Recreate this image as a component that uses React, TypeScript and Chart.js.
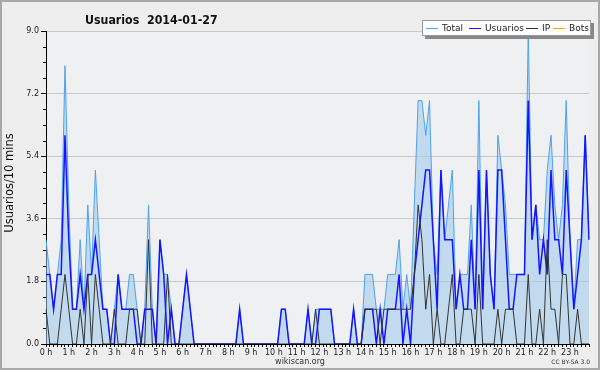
import React, { useEffect, useRef } from 'react';
import { Chart, registerables } from 'chart.js';

Chart.register(...registerables);

// 10-minute slots over the day (144 slots)
const slotLabels: string[] = Array.from({ length: 144 }, (_, i) => `${Math.floor(i / 6)}:${i % 6}0`);
const hourTickLabels: string[] = [
  '0 h', '1 h', '2 h', '3 h', '4 h', '5 h', '6 h', '7 h', '8 h', '9 h', '10 h', '11 h',
  '12 h', '13 h', '14 h', '15 h', '16 h', '17 h', '18 h', '19 h', '20 h', '21 h', '22 h', '23 h',
];

const totalValues: number[] = [
  3, 2, 1, 2, 3, 8, 4, 1, 1, 3,
  1, 4, 2, 5, 3, 1, 1, 0, 1, 2,
  1, 1, 2, 2, 1, 0, 1, 4, 1, 0,
  3, 2, 2, 1, 0, 0, 1, 2, 1, 0,
  0, 0, 0, 0, 0, 0, 0, 0, 0, 0,
  0, 1, 0, 0, 0, 0, 0, 0, 0, 0,
  0, 0, 1, 1, 0, 0, 0, 0, 0, 1,
  0, 1, 1, 1, 1, 1, 0, 0, 0, 0,
  0, 1, 0, 0, 2, 2, 2, 1, 1, 1,
  2, 2, 2, 3, 1, 2, 1, 4, 7, 7,
  6, 7, 3, 2, 5, 3, 4, 5, 1, 2,
  2, 2, 4, 1, 7, 1, 5, 2, 1, 6,
  5, 4, 2, 2, 2, 2, 2, 9, 3, 4,
  3, 3, 5, 6, 4, 3, 4, 7, 3, 1,
  3, 3, 6, 3,
];

const usuariosValues: number[] = [
  2, 2, 1, 2, 2, 6, 3, 1, 1, 2,
  1, 2, 2, 3, 2, 1, 1, 0, 0, 2,
  1, 1, 1, 1, 0, 0, 1, 1, 1, 0,
  3, 2, 0, 1, 0, 0, 1, 2, 1, 0,
  0, 0, 0, 0, 0, 0, 0, 0, 0, 0,
  0, 1, 0, 0, 0, 0, 0, 0, 0, 0,
  0, 0, 1, 1, 0, 0, 0, 0, 0, 1,
  0, 0, 1, 1, 1, 1, 0, 0, 0, 0,
  0, 1, 0, 0, 1, 1, 1, 0, 1, 0,
  1, 1, 1, 2, 0, 1, 0, 2, 3, 4,
  5, 5, 3, 1, 5, 3, 3, 3, 1, 2,
  1, 1, 3, 1, 5, 1, 5, 2, 1, 5,
  5, 3, 1, 1, 2, 2, 2, 7, 3, 4,
  2, 3, 2, 5, 3, 3, 2, 5, 3, 1,
  2, 3, 6, 3,
];

const ipValues: number[] = [
  1, 0, 0, 0, 1, 2, 1, 0, 0, 1,
  0, 2, 0, 2, 1, 0, 0, 0, 1, 0,
  0, 0, 1, 1, 1, 0, 0, 3, 0, 0,
  0, 0, 2, 0, 0, 0, 0, 0, 0, 0,
  0, 0, 0, 0, 0, 0, 0, 0, 0, 0,
  0, 0, 0, 0, 0, 0, 0, 0, 0, 0,
  0, 0, 0, 0, 0, 0, 0, 0, 0, 0,
  0, 1, 0, 0, 0, 0, 0, 0, 0, 0,
  0, 0, 0, 0, 1, 1, 1, 1, 0, 1,
  1, 1, 1, 1, 1, 1, 1, 2, 4, 3,
  1, 2, 0, 1, 0, 0, 1, 2, 0, 0,
  1, 1, 1, 0, 2, 0, 0, 0, 0, 1,
  0, 1, 1, 1, 0, 0, 0, 2, 0, 0,
  1, 0, 3, 1, 1, 0, 2, 2, 0, 0,
  1, 0, 0, 0,
];

const legendNames: string[] = ['Total', 'Usuarios', 'IP', 'Bots'];
const legendColors: string[] = ['#4ea2ee', '#1414ff', '#333333', '#ffa500'];
const yStep = 1.8;
const yMinorStep = 0.45;
const yMax = 9;

const FONT = "'DejaVu Sans', sans-serif";

const decorPlugin = {
  id: 'decor',
  beforeDraw(chart: any) {
    const { ctx, chartArea: a, width, height } = chart;
    ctx.save();
    ctx.fillStyle = '#eeeeee';
    ctx.fillRect(0, 0, width, height);
    ctx.fillStyle = '#eef0f2';
    ctx.fillRect(a.left, a.top, a.right - a.left, a.bottom - a.top);
    ctx.restore();
  },
  afterDraw(chart: any) {
    const { ctx, chartArea: a } = chart;
    const y = chart.scales.y;
    ctx.save();
    // minor ticks on y axis
    ctx.strokeStyle = '#000';
    ctx.lineWidth = 1;
    const n = Math.round(yMax / yMinorStep);
    const ratio = Math.round(yStep / yMinorStep);
    for (let k = 1; k < n; k++) {
      if (k % ratio === 0) continue;
      const py = Math.round(y.getPixelForValue(k * yMinorStep)) + 0.5;
      ctx.beginPath();
      ctx.moveTo(a.left - 3, py);
      ctx.lineTo(a.left, py);
      ctx.stroke();
    }

    // outer frame
    ctx.strokeStyle = '#a8a8a8';
    ctx.lineWidth = 2;
    ctx.strokeRect(1, 1, 598, 368);

    // title (condensed look)
    ctx.save();
    ctx.translate(85, 24);
    ctx.scale(0.85, 1);
    ctx.fillStyle = '#111';
    ctx.font = `bold 13px ${FONT}`;
    ctx.textAlign = 'left';
    ctx.textBaseline = 'alphabetic';
    ctx.fillText('Usuarios  2014-01-27', 0, 0);
    ctx.restore();

    // y axis title
    ctx.save();
    ctx.translate(10, 183);
    ctx.rotate(-Math.PI / 2);
    ctx.font = `11.5px ${FONT}`;
    ctx.textAlign = 'center';
    ctx.textBaseline = 'middle';
    ctx.fillStyle = '#111';
    ctx.fillText('Usuarios/10 mins', 0, 0);
    ctx.restore();

    // footer
    ctx.fillStyle = '#333';
    ctx.font = `8px ${FONT}`;
    ctx.textAlign = 'center';
    ctx.textBaseline = 'middle';
    ctx.fillText('wikiscan.org', 300, 362);
    ctx.font = `6px ${FONT}`;
    ctx.textAlign = 'right';
    ctx.fillText('CC BY-SA 3.0', 590, 362);

    // legend box
    ctx.fillStyle = '#888';
    ctx.fillRect(425, 23, 169, 16);
    ctx.fillStyle = '#ffffff';
    ctx.fillRect(422, 20, 169, 16);
    ctx.strokeStyle = '#999';
    ctx.lineWidth = 1;
    ctx.strokeRect(422.5, 20.5, 168, 15);
    const starts = [426, 469, 526, 553];
    ctx.font = `9px ${FONT}`;
    ctx.textAlign = 'left';
    ctx.textBaseline = 'middle';
    legendNames.forEach((name, i) => {
      const x0 = starts[i];
      ctx.strokeStyle = legendColors[i];
      ctx.beginPath();
      ctx.moveTo(x0, 28.5);
      ctx.lineTo(x0 + 12, 28.5);
      ctx.stroke();
      ctx.fillStyle = '#222';
      ctx.fillText(name, x0 + 16, 28.5);
    });
    ctx.restore();
  },
};

export default function App() {
  const ref = useRef<HTMLCanvasElement>(null);
  useEffect(() => {
    const canvas = ref.current;
    if (!canvas) return;
    Chart.defaults.font.family = FONT;
    const chart = new Chart(canvas, {
      type: 'line',
      data: {
        labels: slotLabels,
        datasets: [
          {
            label: 'IP',
            data: ipValues,
            borderColor: legendColors[2],
            borderWidth: 1,
            fill: false,
            order: 1,
          },
          {
            label: 'Usuarios',
            data: usuariosValues,
            borderColor: legendColors[1],
            borderWidth: 1.5,
            fill: false,
            order: 2,
          },
          {
            label: 'Total',
            data: totalValues,
            borderColor: legendColors[0],
            backgroundColor: 'rgba(158,200,234,0.55)',
            borderWidth: 1,
            fill: 'origin',
            order: 3,
          },
        ],
      },
      options: {
        responsive: false,
        animation: false,
        devicePixelRatio: 1,
        layout: { padding: { left: 0, top: 31, right: 11, bottom: 0 } },
        elements: { point: { radius: 0 }, line: { tension: 0 } },
        plugins: {
          legend: { display: false },
          tooltip: { enabled: false },
          title: { display: false },
        },
        scales: {
          x: {
            type: 'category',
            offset: false,
            grid: { drawOnChartArea: false, tickColor: '#000', tickLength: 3 },
            border: { display: true, color: '#000', width: 1 },
            ticks: {
              autoSkip: false,
              maxRotation: 0,
              minRotation: 0,
              padding: 1,
              color: '#222',
              font: { size: 8 },
              callback: (_v: any, i: number) => (i % 6 === 0 ? hourTickLabels[i / 6] : ''),
            },
            afterFit: (s: any) => {
              s.height = 26;
            },
          },
          y: {
            type: 'linear',
            min: 0,
            max: yMax,
            grid: {
              color: (c: any) => (c.tick && c.tick.value === 0 ? 'rgba(0,0,0,0)' : '#c8c8c8'),
              tickColor: '#000',
              tickLength: 5,
            },
            border: { display: true, color: '#000', width: 1 },
            ticks: {
              stepSize: yStep,
              padding: 2,
              color: '#222',
              font: { size: 8 },
              callback: (v: any) => Number(v).toFixed(1),
            },
            afterFit: (s: any) => {
              s.width = 46;
            },
          },
        },
      },
      plugins: [decorPlugin],
    });
    return () => chart.destroy();
  }, []);
  return (
    <div style={{ position: 'absolute', left: 0, top: 0, width: 600, height: 370 }}>
      <canvas ref={ref} width={600} height={370} style={{ display: 'block' }} />
    </div>
  );
}
